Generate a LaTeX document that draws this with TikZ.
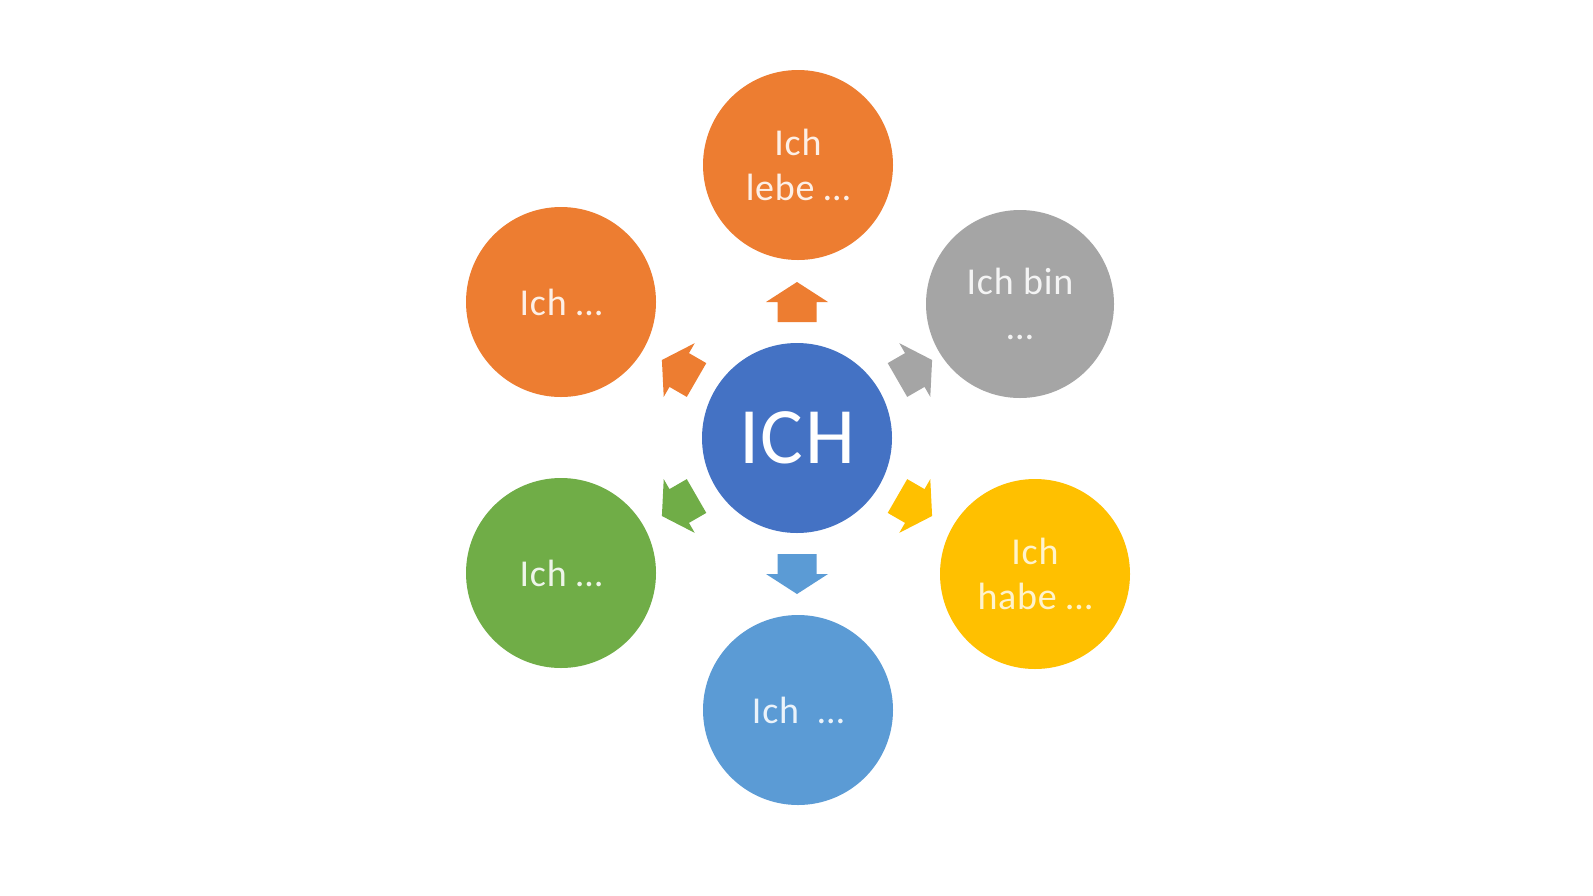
\documentclass[tikz,border=0pt]{standalone}
\usepackage{fontspec}
\setmainfont[LetterSpace=2]{Carlito}
\definecolor{corange}{HTML}{ED7D31}
\definecolor{cgray}{HTML}{A5A5A5}
\definecolor{cyellow}{HTML}{FFC000}
\definecolor{clblue}{HTML}{5B9BD5}
\definecolor{cgreen}{HTML}{70AD47}
\definecolor{cblue}{HTML}{4472C4}
\begin{document}
\begin{tikzpicture}[x=1pt,y=-1pt,
  bubble/.style={circle, minimum size=190pt, inner sep=0pt, align=center,
    font=\fontsize{38}{45}\selectfont}]
\useasboundingbox[fill=white] (0,0) rectangle (1593,895);
\node[bubble, fill=cblue, text=white, font=\fontsize{80}{90}\selectfont] (ich) at (797,438) {ICH};
\node[bubble, fill=corange, text=white!88!corange] (top) at (798,165) {Ich\\lebe …};
\node[bubble, fill=corange, text=white!88!corange] (ul) at (561,302) {Ich …};
\node[bubble, fill=cgray, text=white!88!cgray, minimum size=188pt] (ur) at (1020,304) {Ich bin\\…};
\node[bubble, fill=cyellow, text=white!80!cyellow] (lr) at (1035,574) {Ich\\habe …};
\node[bubble, fill=clblue, text=white!88!clblue] (bot) at (798,710) {Ich\ \ …};
\node[bubble, fill=cgreen, text=white!88!cgreen] (ll) at (561,573) {Ich …};
\foreach \ang/\col in {0/corange, 60/corange, 120/cgreen, 180/clblue, 240/cyellow, 300/cgray}{
  \begin{scope}[shift={(ich.center)}, rotate=\ang]
    \fill[\col] (-19.5,-116) -- (-19.5,-136) -- (-31,-136) -- (0,-156)
      -- (31,-136) -- (19.5,-136) -- (19.5,-116) -- cycle;
  \end{scope}
}
\end{tikzpicture}
\end{document}
